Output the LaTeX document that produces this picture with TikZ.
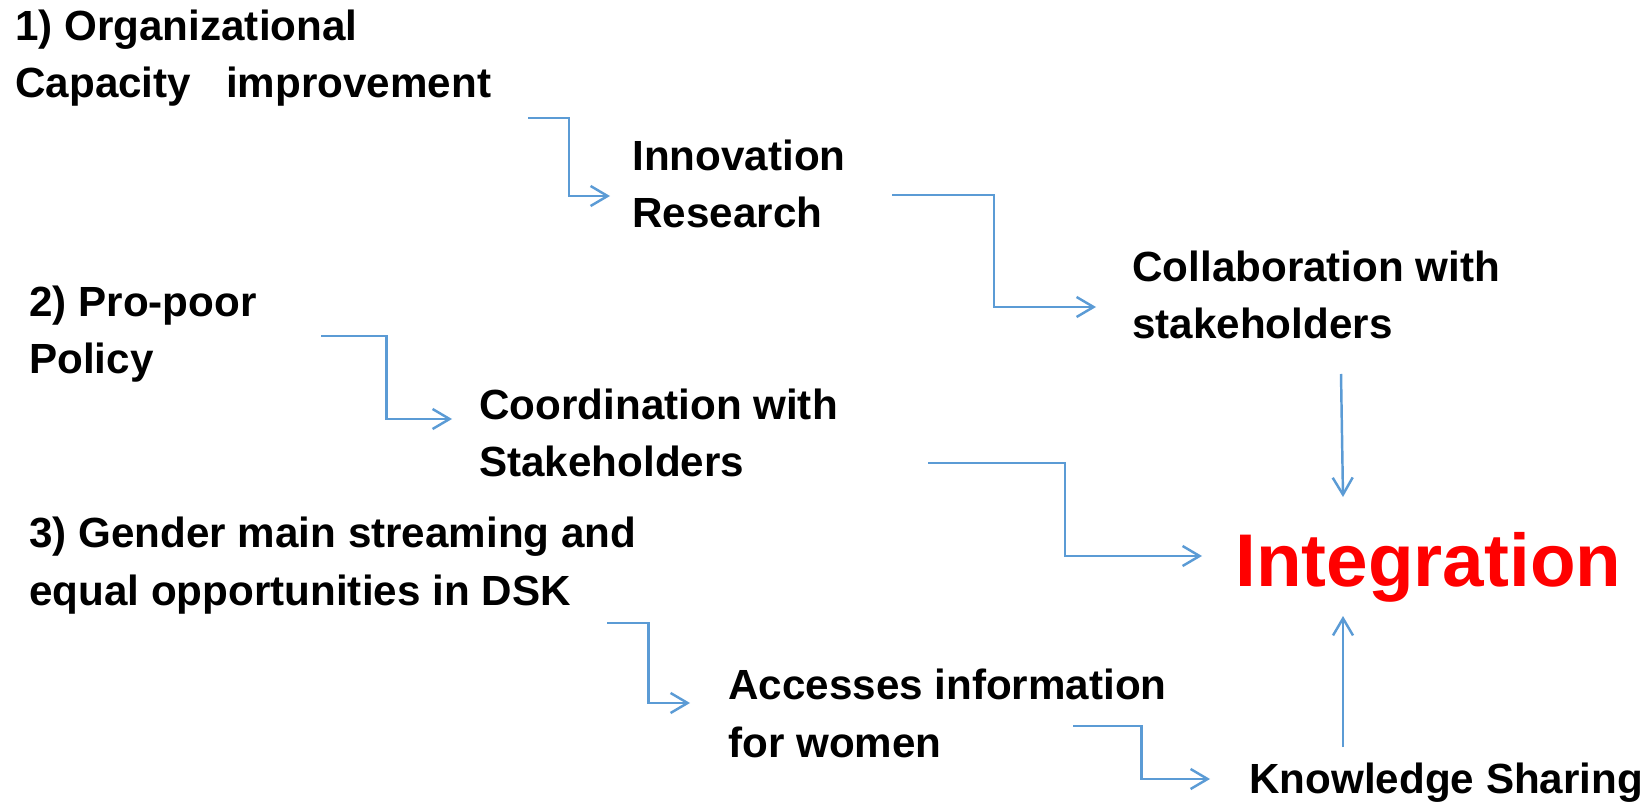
\documentclass[tikz,border=0pt]{standalone}
\usepackage{fontspec}
\setmainfont{Liberation Sans}
\usetikzlibrary{arrows.meta,calc}

\tikzset{
  lbl/.style={anchor=base west,align=left,inner sep=0pt,font=\fontsize{24}{33}\selectfont\bfseries},
  conn/.style={draw=conblue,line width=1.4pt,-{Straight Barb[length=3.4mm,width=4mm]}},
  elbow/.style={to path={-| ($(\tikztostart)!.5!(\tikztotarget)$) |- (\tikztotarget)}}
}
\definecolor{conblue}{RGB}{91,155,213}

\begin{document}
\begin{tikzpicture}
	\useasboundingbox (0,0) rectangle (33,-16.06);
	% texts (base = last line)
	\node[lbl] (org) at (0.30,-1.96) {1) Organizational\\Capacity\ \ \ improvement};
	\node[lbl] (inno) at (12.64,-4.56) {Innovation\\Research};
	\node[lbl] (collab) at (22.64,-6.78) {Collaboration with\\stakeholders};
	\node[lbl] (pro) at (0.58,-7.48) {2) Pro-poor\\Policy};
	\node[lbl] (coord) at (9.58,-9.54) {Coordination with\\Stakeholders};
	\node[lbl] (gender) at (0.58,-12.10) {3) Gender main streaming and\\equal opportunities in DSK};
	\node[lbl] (access) at (14.56,-15.14) {Accesses information\\for women};
	\node[lbl] (know) at (24.98,-15.86) {Knowledge Sharing};
	\node[lbl,text=red,font=\fontsize{42.5}{50}\selectfont\bfseries] (integ) at (24.70,-11.72) {Integration};

	% connector ends
	\coordinate (org-out) at (10.56,-2.36);
	\coordinate (inno-in) at (12.20,-3.92);
	\coordinate (inno-out) at (17.84,-3.90);
	\coordinate (collab-in) at (21.92,-6.14);
	\coordinate (collab-out) at (26.82,-7.48);
	\coordinate (pro-out) at (6.42,-6.72);
	\coordinate (coord-in) at (9.04,-8.38);
	\coordinate (coord-out) at (18.56,-9.26);
	\coordinate (integ-l) at (24.04,-11.12);
	\coordinate (integ-t) at (26.86,-9.94);
	\coordinate (integ-b) at (26.86,-12.32);
	\coordinate (gender-out) at (12.14,-12.46);
	\coordinate (access-in) at (13.80,-14.06);
	\coordinate (access-out) at (21.46,-14.52);
	\coordinate (know-in) at (24.20,-15.58);
	\coordinate (know-out) at (26.86,-14.94);

	\draw[conn] (org-out) to[elbow] (inno-in);
	\draw[conn] (inno-out) to[elbow] (collab-in);
	\draw[conn] (pro-out) to[elbow] (coord-in);
	\draw[conn] (coord-out) to[elbow] (integ-l);
	\draw[conn] (gender-out) to[elbow] (access-in);
	\draw[conn] (access-out) to[elbow] (know-in);
	\draw[conn] (collab-out) -- (integ-t);
	\draw[conn] (know-out) -- (integ-b);
\end{tikzpicture}
\end{document}
